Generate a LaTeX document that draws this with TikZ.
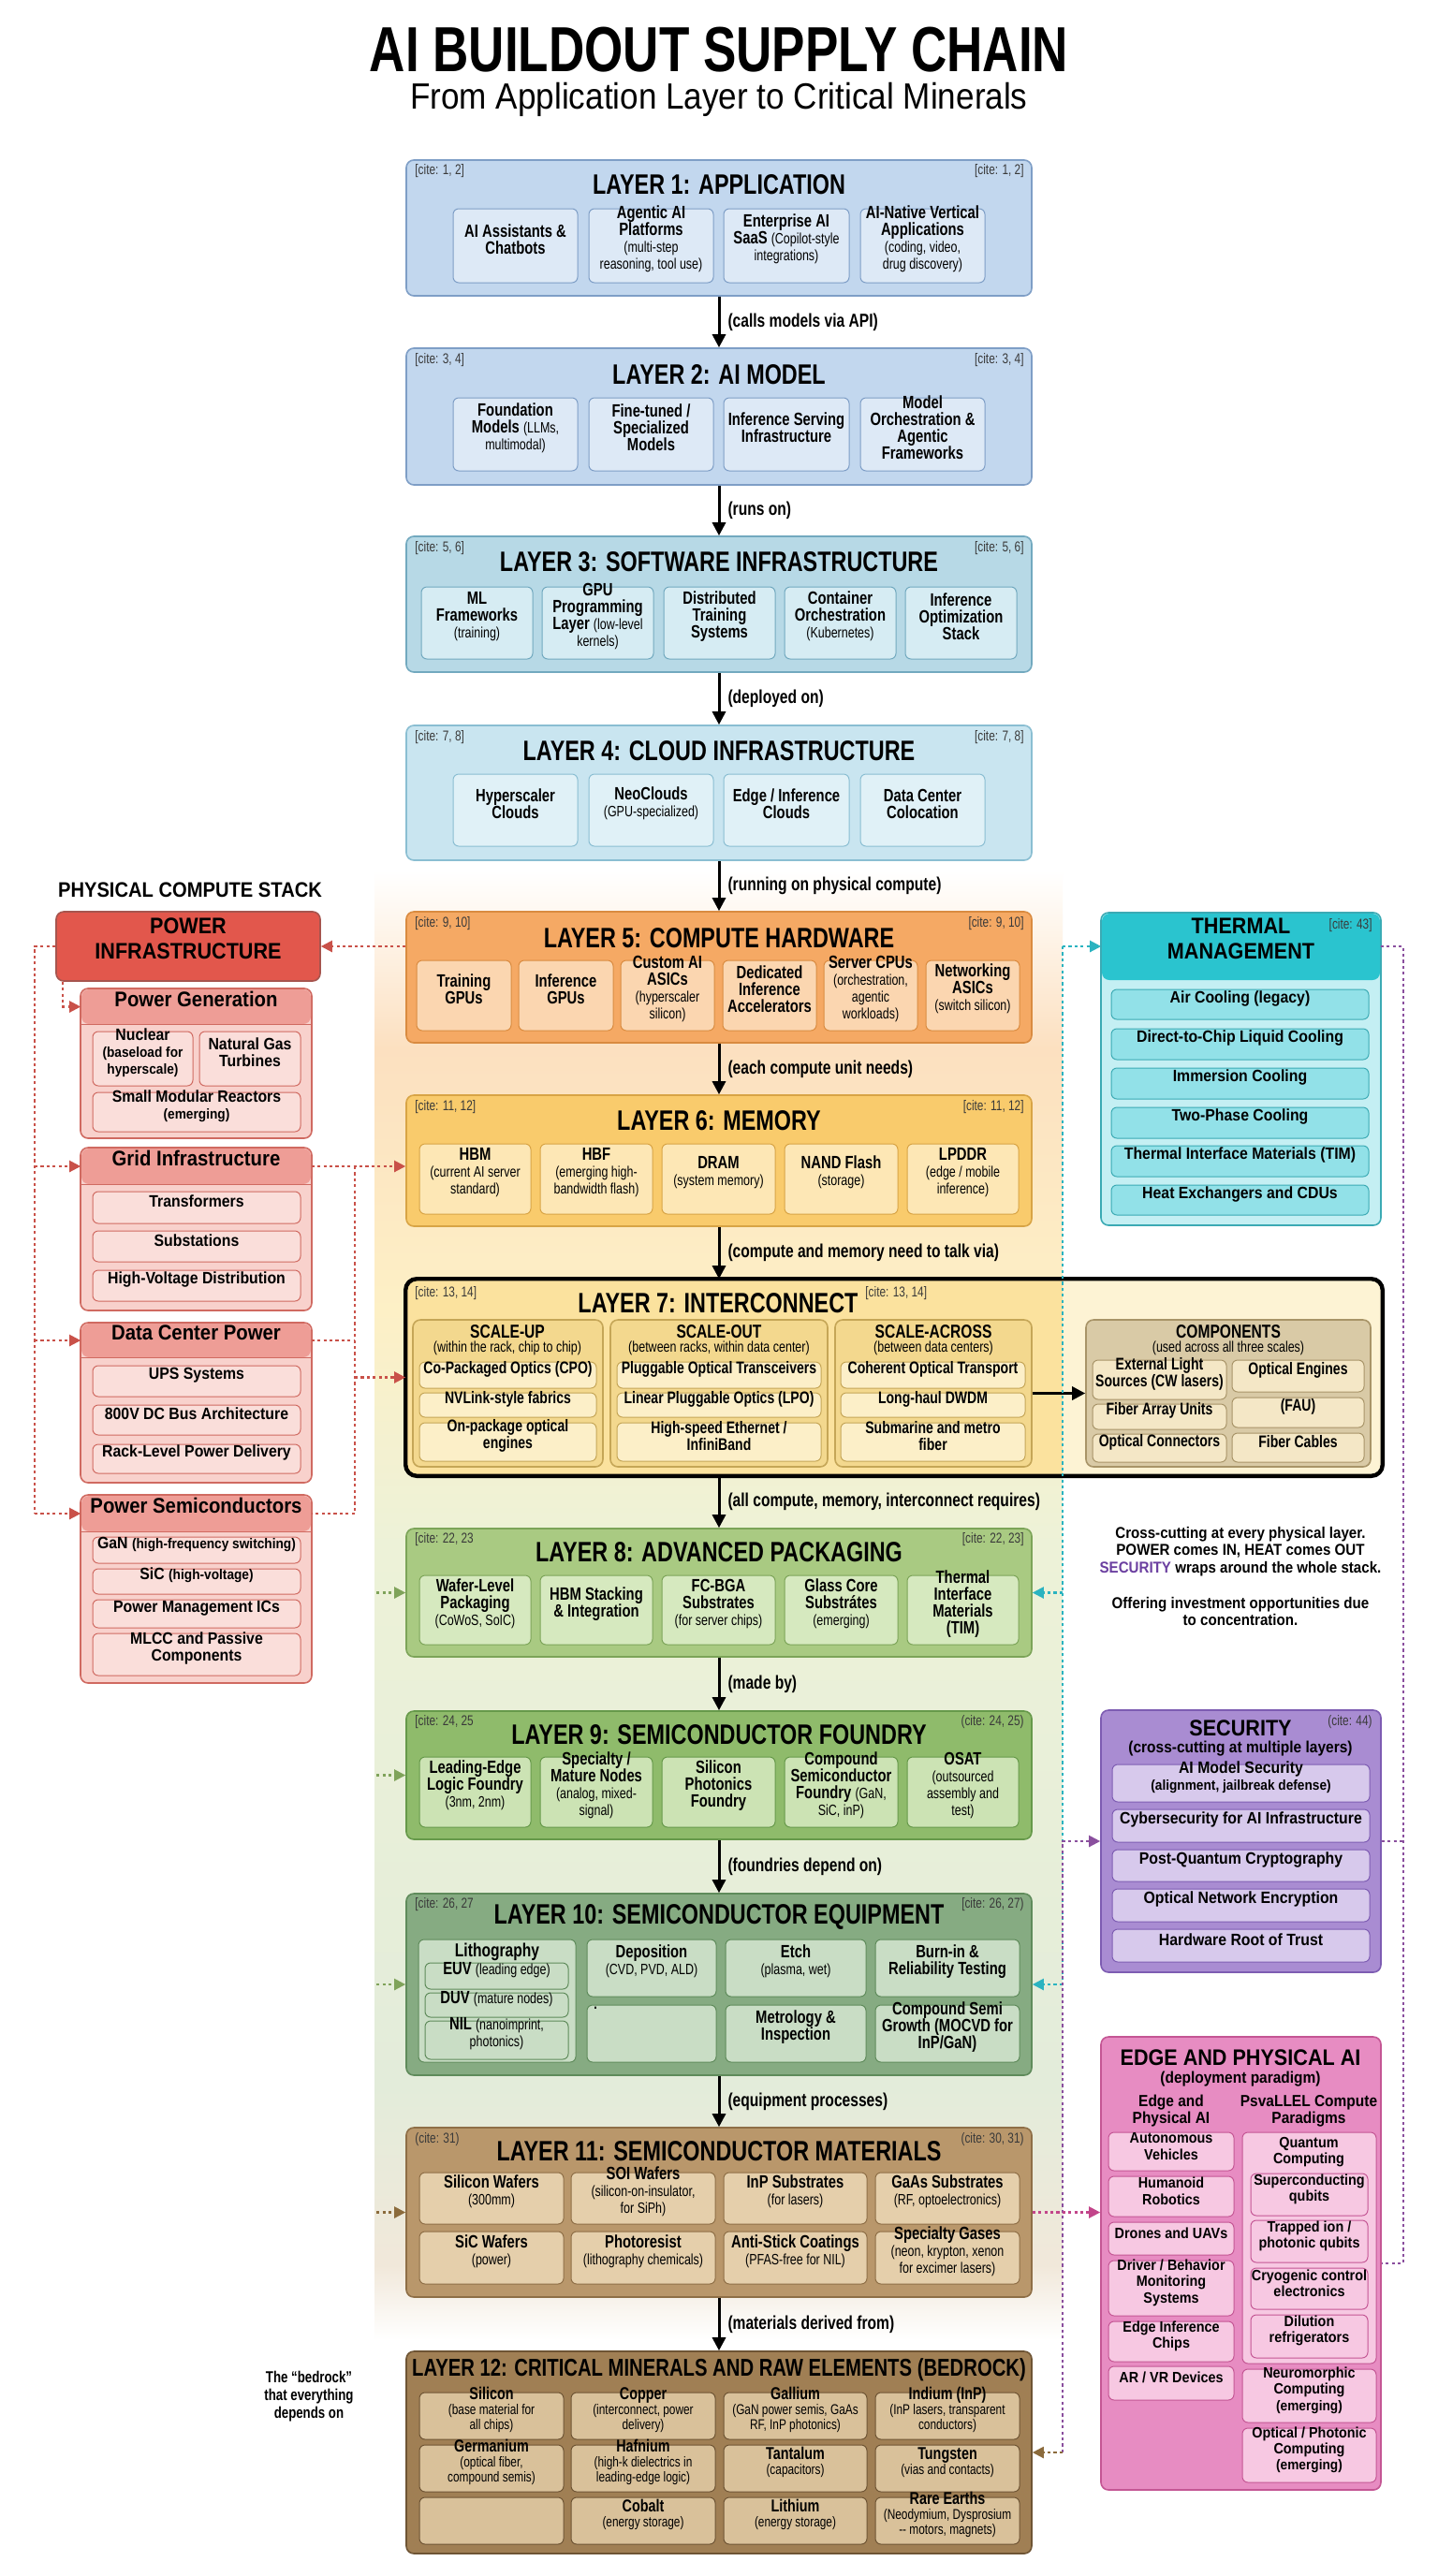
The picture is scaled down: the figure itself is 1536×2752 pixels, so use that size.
\documentclass[tikz,border=0pt]{standalone}
\usepackage{fontspec}
\setmainfont{Liberation Sans}
\newfontfamily\condf{Liberation Sans}[FakeStretch=0.78]
\newfontfamily\sidef{Liberation Sans}[FakeStretch=0.9]
\usetikzlibrary{positioning, fit, calc, arrows.meta}

% layer colours
\definecolor{bluefill}{HTML}{C2D7EE}
\definecolor{blueitem}{HTML}{DDE9F6}
\definecolor{blueline}{HTML}{7E9EC6}
\definecolor{tealfill}{HTML}{B7D9E6}
\definecolor{tealitem}{HTML}{D6ECF3}
\definecolor{tealline}{HTML}{72A9BF}
\definecolor{skyfill}{HTML}{C9E5F0}
\definecolor{skyitem}{HTML}{E0F1F7}
\definecolor{skyline}{HTML}{8ABED2}
\definecolor{orangefill}{HTML}{F5A964}
\definecolor{orangeitem}{HTML}{FBD6B0}
\definecolor{orangeline}{HTML}{D98B40}
\definecolor{goldfill}{HTML}{F9CB6C}
\definecolor{golditem}{HTML}{FDE7B5}
\definecolor{goldline}{HTML}{D8A445}
\definecolor{l7warm}{HTML}{FBE29E}
\definecolor{l7light}{HTML}{FDF3D4}
\definecolor{l7col}{HTML}{F3D88E}
\definecolor{l7item}{HTML}{FCEFC8}
\definecolor{l7line}{HTML}{C5A657}
\definecolor{compfill}{HTML}{D9CAA6}
\definecolor{compitem}{HTML}{F4E7C6}
\definecolor{compline}{HTML}{A89468}
\definecolor{leaffill}{HTML}{A9CA82}
\definecolor{leafitem}{HTML}{D6E9BF}
\definecolor{leafline}{HTML}{7CA458}
\definecolor{grassfill}{HTML}{8FBB6B}
\definecolor{grassitem}{HTML}{CCE3B4}
\definecolor{grassline}{HTML}{66994A}
\definecolor{sagefill}{HTML}{86AB82}
\definecolor{sageitem}{HTML}{C9DDC5}
\definecolor{sageline}{HTML}{5F8B5B}
\definecolor{tanfill}{HTML}{B9976B}
\definecolor{tanitem}{HTML}{E5CFAB}
\definecolor{tanline}{HTML}{8E6E46}
\definecolor{earthfill}{HTML}{A07F54}
\definecolor{earthitem}{HTML}{D9C19A}
\definecolor{earthline}{HTML}{6E5434}
% side panels
\definecolor{powerhead}{HTML}{E2574C}
\definecolor{powerbody}{HTML}{F8D1CC}
\definecolor{powerstrip}{HTML}{EE9D96}
\definecolor{poweritem}{HTML}{FADEDA}
\definecolor{powerline}{HTML}{D06A61}
\definecolor{thermhead}{HTML}{2AC4CF}
\definecolor{thermbody}{HTML}{C4EFF3}
\definecolor{thermitem}{HTML}{92E1E8}
\definecolor{thermline}{HTML}{3BAAB4}
\definecolor{secfill}{HTML}{A98CD2}
\definecolor{secitem}{HTML}{D7C9EC}
\definecolor{secline}{HTML}{7D5CB2}
\definecolor{secword}{HTML}{6B3FA0}
\definecolor{edgefill}{HTML}{E78CC2}
\definecolor{edgeitem}{HTML}{F7C8E2}
\definecolor{edgeline}{HTML}{C45694}
% connectors
\definecolor{reddot}{HTML}{C95149}
\definecolor{cyandot}{HTML}{2BB3C0}
\definecolor{purpdot}{HTML}{8A4F9E}
\definecolor{pinkdot}{HTML}{C2458A}
\definecolor{greendot}{HTML}{7FA35A}
\definecolor{browndot}{HTML}{8B6B3C}
\definecolor{citegray}{HTML}{3A3A3A}
% glow
\definecolor{glowA}{HTML}{FCE0C0}
\definecolor{glowB}{HTML}{FDF0C6}
\definecolor{glowC}{HTML}{EDF2D8}
\definecolor{glowD}{HTML}{E3ECDA}
\definecolor{glowE}{HTML}{F1E8DA}

\newcommand{\smalltxt}[1]{{\mdseries\fontsize{8}{8.2}\selectfont #1}}
\newcommand{\minitxt}[1]{{\mdseries\fontsize{7.6}{7.8}\selectfont #1}}
\newcommand{\sidesmall}[1]{{\fontsize{7.6}{7.8}\selectfont #1}}

\begin{document}
\begin{tikzpicture}[
    x=0.5pt, y=-0.5pt,
    layer/.style={rounded corners=4pt, line width=0.8pt, inner sep=0pt},
    item/.style={draw, rounded corners=3pt, line width=0.5pt, inner sep=0pt,
      align=center, font=\condf\bfseries\fontsize{9.5}{9}\selectfont},
    app/.style={item, fill=blueitem, draw=blueline},
    soft/.style={item, fill=tealitem, draw=tealline},
    cloud/.style={item, fill=skyitem, draw=skyline},
    chip/.style={item, fill=orangeitem, draw=orangeline},
    mem/.style={item, fill=golditem, draw=goldline},
    link/.style={item, fill=l7item, draw=l7line, font=\condf\bfseries\fontsize{9}{9}\selectfont},
    comp/.style={item, fill=compitem, draw=compline, font=\condf\bfseries\fontsize{9}{9}\selectfont},
    pack/.style={item, fill=leafitem, draw=leafline},
    fab/.style={item, fill=grassitem, draw=grassline},
    tool/.style={item, fill=sageitem, draw=sageline},
    mat/.style={item, fill=tanitem, draw=tanline},
    mineral/.style={item, fill=earthitem, draw=earthline, font=\condf\bfseries\fontsize{9.2}{8}\selectfont},
    ltitle/.style={font=\condf\bfseries\fontsize{15}{16}\selectfont, inner sep=0pt},
    colhead/.style={font=\condf\bfseries\fontsize{10}{11}\selectfont, inner sep=0pt},
    colsub/.style={font=\condf\fontsize{8}{9}\selectfont, inner sep=0pt},
    cite/.style={font=\condf\fontsize{7.6}{8}\selectfont, text=citegray, inner sep=0pt},
    flow/.style={-{Triangle[length=7pt,width=7pt]}, line width=1.5pt},
    flowlab/.style={midway, right, xshift=4pt, font=\condf\bfseries\fontsize{10}{11}\selectfont, inner sep=0pt},
    sidehead/.style={font=\sidef\bfseries\fontsize{12}{13.5}\selectfont, align=center, inner sep=0pt, text=black},
    subhead/.style={font=\sidef\bfseries\fontsize{11.3}{12}\selectfont, inner sep=0pt},
    sideitem/.style={draw, rounded corners=3pt, line width=0.5pt, inner sep=0pt,
      align=center, font=\sidef\bfseries\fontsize{8.8}{9}\selectfont},
    pwritem/.style={sideitem, fill=poweritem, draw=powerline},
    thitem/.style={sideitem, fill=thermitem, draw=thermline},
    secbox/.style={sideitem, fill=secitem, draw=secline},
    edgebox/.style={sideitem, fill=edgeitem, draw=edgeline, font=\sidef\bfseries\fontsize{8}{8.6}\selectfont},
    wire/.style={line width=1.1pt, dash pattern=on 1.6pt off 1.6pt},
    tip/.style={-{Triangle[length=6pt,width=6pt]}}
  ]

  % canvas
  \useasboundingbox (0,0) rectangle (1536,2752);
  \fill[white] (0,0) rectangle (1536,2752);

  % glow behind the physical layers
  \shade[top color=white, bottom color=glowA] (400,930) rectangle (1135,1120);
  \shade[top color=glowA, bottom color=glowB] (400,1120) rectangle (1135,1400);
  \shade[top color=glowB, bottom color=glowC] (400,1400) rectangle (1135,1650);
  \shade[top color=glowC, bottom color=glowD] (400,1650) rectangle (1135,2230);
  \shade[top color=glowD, bottom color=glowE] (400,2230) rectangle (1135,2420);
  \shade[top color=glowE, bottom color=white] (400,2420) rectangle (1135,2500);

  % title
  \node[font=\condf\bfseries\fontsize{34}{36}\selectfont, inner sep=0pt] (title) at (768,53) {AI BUILDOUT SUPPLY CHAIN};
  \node[font=\sidef\fontsize{19.5}{21}\selectfont, inner sep=0pt] (subtitle) at (768,106) {From Application Layer to Critical Minerals};

  % Layer 1
  \node[layer, fill=bluefill, draw=blueline, fit={(434,171) (1102,316)}] (L1) {};
  \node[ltitle] (t1) at (768,197) {LAYER 1: APPLICATION};
  \node[cite, anchor=west] (c1a) at (443,183) {[cite: 1, 2]};
  \node[cite, anchor=east] (c1b) at (1094,183) {[cite: 1, 2]};
  \node[app, fit={(484,223) (617,302)}] (L1a) {AI Assistants \&\\Chatbots};
  \node[app, fit={(629,223) (762,302)}] (L1b) {Agentic AI\\Platforms\\\smalltxt{(multi-step}\\\smalltxt{reasoning, tool use)}};
  \node[app, fit={(773,223) (907,302)}] (L1c) {Enterprise AI\\SaaS \smalltxt{(Copilot-style}\\\smalltxt{integrations)}};
  \node[app, fit={(919,223) (1052,302)}] (L1d) {AI-Native Vertical\\Applications\\\smalltxt{(coding, video,}\\\smalltxt{drug discovery)}};

  % Layer 2
  \node[layer, fill=bluefill, draw=blueline, fit={(434,372) (1102,518)}] (L2) {};
  \node[ltitle] (t2) at (768,400) {LAYER 2: AI MODEL};
  \node[cite, anchor=west] (c2a) at (443,385) {[cite: 3, 4]};
  \node[cite, anchor=east] (c2b) at (1094,385) {[cite: 3, 4]};
  \node[app, fit={(484,425) (617,503)}] (L2a) {Foundation\\Models \smalltxt{(LLMs,}\\\smalltxt{multimodal)}};
  \node[app, fit={(629,425) (762,503)}] (L2b) {Fine-tuned /\\Specialized\\Models};
  \node[app, fit={(773,425) (907,503)}] (L2c) {Inference Serving\\Infrastructure};
  \node[app, fit={(919,425) (1052,503)}] (L2d) {Model\\Orchestration \&\\Agentic\\Frameworks};

  % Layer 3
  \node[layer, fill=tealfill, draw=tealline, fit={(434,573) (1102,718)}] (L3) {};
  \node[ltitle] (t3) at (768,600) {LAYER 3: SOFTWARE INFRASTRUCTURE};
  \node[cite, anchor=west] (c3a) at (443,586) {[cite: 5, 6]};
  \node[cite, anchor=east] (c3b) at (1094,586) {[cite: 5, 6]};
  \node[soft, fit={(450,627) (569,704)}] (L3a) {ML\\Frameworks\\\smalltxt{(training)}};
  \node[soft, fit={(579,627) (698,704)}] (L3b) {GPU\\Programming\\Layer \smalltxt{(low-level}\\\smalltxt{kernels)}};
  \node[soft, fit={(709,627) (828,704)}] (L3c) {Distributed\\Training\\Systems};
  \node[soft, fit={(838,627) (957,704)}] (L3d) {Container\\Orchestration\\\smalltxt{(Kubernetes)}};
  \node[soft, fit={(967,627) (1086,704)}] (L3e) {Inference\\Optimization\\Stack};

  % Layer 4
  \node[layer, fill=skyfill, draw=skyline, fit={(434,775) (1102,919)}] (L4) {};
  \node[ltitle] (t4) at (768,802) {LAYER 4: CLOUD INFRASTRUCTURE};
  \node[cite, anchor=west] (c4a) at (443,788) {[cite: 7, 8]};
  \node[cite, anchor=east] (c4b) at (1094,788) {[cite: 7, 8]};
  \node[cloud, fit={(484,827) (617,904)}] (L4a) {Hyperscaler\\Clouds};
  \node[cloud, fit={(629,827) (762,904)}] (L4b) {NeoClouds\\\smalltxt{(GPU-specialized)}};
  \node[cloud, fit={(773,827) (907,904)}] (L4c) {Edge / Inference\\Clouds};
  \node[cloud, fit={(919,827) (1052,904)}] (L4d) {Data Center\\Colocation};

  % Layer 5
  \node[layer, fill=orangefill, draw=orangeline, fit={(434,974) (1102,1114)}] (L5) {};
  \node[ltitle] (t5) at (768,1002) {LAYER 5: COMPUTE HARDWARE};
  \node[cite, anchor=west] (c5a) at (443,987) {[cite: 9, 10]};
  \node[cite, anchor=east] (c5b) at (1094,987) {[cite: 9, 10]};
  \node[chip, fit={(445,1026) (546,1101)}] (L5a) {Training\\GPUs};
  \node[chip, fit={(554,1026) (655,1101)}] (L5b) {Inference\\GPUs};
  \node[chip, fit={(663,1026) (763,1101)}] (L5c) {Custom AI\\ASICs\\\smalltxt{(hyperscaler}\\\smalltxt{silicon)}};
  \node[chip, fit={(772,1026) (872,1101)}] (L5d) {Dedicated\\Inference\\Accelerators};
  \node[chip, fit={(880,1026) (980,1101)}] (L5e) {Server CPUs\\\smalltxt{(orchestration,}\\\smalltxt{agentic}\\\smalltxt{workloads)}};
  \node[chip, fit={(989,1026) (1089,1101)}] (L5f) {Networking\\ASICs\\\smalltxt{(switch silicon)}};

  % Layer 6
  \node[layer, fill=goldfill, draw=goldline, fit={(434,1170) (1102,1310)}] (L6) {};
  \node[ltitle] (t6) at (768,1197) {LAYER 6: MEMORY};
  \node[cite, anchor=west] (c6a) at (443,1183) {[cite: 11, 12]};
  \node[cite, anchor=east] (c6b) at (1094,1183) {[cite: 11, 12]};
  \node[mem, fit={(448,1222) (567,1297)}] (L6a) {HBM\\\smalltxt{(current AI server}\\\smalltxt{standard)}};
  \node[mem, fit={(577,1222) (697,1297)}] (L6b) {HBF\\\smalltxt{(emerging high-}\\\smalltxt{bandwidth flash)}};
  \node[mem, fit={(707,1222) (828,1297)}] (L6c) {DRAM\\\smalltxt{(system memory)}};
  \node[mem, fit={(838,1222) (959,1297)}] (L6d) {NAND Flash\\\smalltxt{(storage)}};
  \node[mem, fit={(969,1222) (1088,1297)}] (L6e) {LPDDR\\\smalltxt{(edge / mobile}\\\smalltxt{inference)}};

  % Layer 7
  \node[layer, fill=l7light, fit={(434,1367) (1476,1576)}] (L7) {};
  \begin{scope}
    \clip[rounded corners=5pt] (L7.north west) rectangle (L7.south east);
    \fill[l7warm] (L7.north west) rectangle (1135,1576);
  \end{scope}
  \draw[line width=2.2pt, rounded corners=6pt] (L7.north west) rectangle (L7.south east);
  \node[ltitle] (t7) at (767,1392) {LAYER 7: INTERCONNECT};
  \node[cite, anchor=west] (c7a) at (443,1382) {[cite: 13, 14]};
  \node[cite, anchor=west] (c7b) at (924,1382) {[cite: 13, 14]};
  \node[layer, fill=l7col, draw=l7line, fit={(441,1410) (644,1567)}] (UPc) {};
  \node[colhead] (UPh) at (542,1423) {SCALE-UP};
  \node[colsub] (UPs) at (542,1440) {(within the rack, chip to chip)};
  \node[link, fit={(448,1455) (637,1483)}] (UPa) {Co-Packaged Optics (CPO)};
  \node[link, fit={(448,1488) (637,1514)}] (UPb) {NVLink-style fabrics};
  \node[link, fit={(448,1520) (637,1561)}] (UPd) {On-package optical\\engines};
  \node[layer, fill=l7col, draw=l7line, fit={(652,1410) (884,1567)}] (OUTc) {};
  \node[colhead] (OUTh) at (768,1423) {SCALE-OUT};
  \node[colsub] (OUTs) at (768,1440) {(between racks, within data center)};
  \node[link, fit={(659,1455) (877,1483)}] (OUTa) {Pluggable Optical Transceivers};
  \node[link, fit={(659,1488) (877,1514)}] (OUTb) {Linear Pluggable Optics (LPO)};
  \node[link, fit={(659,1520) (877,1561)}] (OUTd) {High-speed Ethernet /\\InfiniBand};
  \node[layer, fill=l7col, draw=l7line, fit={(892,1410) (1102,1567)}] (ACRc) {};
  \node[colhead] (ACRh) at (997,1423) {SCALE-ACROSS};
  \node[colsub] (ACRs) at (997,1440) {(between data centers)};
  \node[link, fit={(898,1455) (1095,1483)}] (ACRa) {Coherent Optical Transport};
  \node[link, fit={(898,1488) (1095,1514)}] (ACRb) {Long-haul DWDM};
  \node[link, fit={(898,1520) (1095,1561)}] (ACRd) {Submarine and metro\\fiber};
  \node[layer, fill=compfill, draw=compline, fit={(1160,1410) (1464,1567)}] (CMP) {};
  \node[colhead] (CMPh) at (1312,1423) {COMPONENTS};
  \node[colsub] (CMPs) at (1312,1440) {(used across all three scales)};
  \node[comp, fit={(1167,1453) (1310,1495)}] (CMPa) {External Light\\Sources (CW lasers)};
  \node[comp, fit={(1316,1453) (1457,1487)}] (CMPb) {Optical Engines};
  \node[comp, fit={(1316,1493) (1457,1525)}] (CMPc) {(FAU)};
  \node[comp, fit={(1167,1500) (1310,1527)}] (CMPd) {Fiber Array Units};
  \node[comp, fit={(1167,1532) (1310,1562)}] (CMPe) {Optical Connectors};
  \node[comp, fit={(1316,1531) (1457,1562)}] (CMPf) {Fiber Cables};
  \draw[flow] (ACRc.east |- CMP.west) -- (CMP.west);

  % Layer 8
  \node[layer, fill=leaffill, draw=leafline, fit={(434,1633) (1102,1770)}] (L8) {};
  \node[ltitle] (t8) at (768,1658) {LAYER 8: ADVANCED PACKAGING};
  \node[cite, anchor=west] (c8a) at (443,1645) {[cite: 22, 23};
  \node[cite, anchor=east] (c8b) at (1094,1645) {[cite: 22, 23]};
  \node[pack, fit={(448,1683) (567,1757)}] (L8a) {Wafer-Level\\Packaging\\\smalltxt{(CoWoS, SoIC)}};
  \node[pack, fit={(577,1683) (697,1757)}] (L8b) {HBM Stacking\\\& Integration};
  \node[pack, fit={(707,1683) (828,1757)}] (L8c) {FC-BGA\\Substrates\\\smalltxt{(for server chips)}};
  \node[pack, fit={(838,1683) (959,1757)}] (L8d) {Glass Core\\Substrátes\\\smalltxt{(emerging)}};
  \node[pack, fit={(969,1683) (1088,1757)}] (L8e) {Thermal\\Interface\\Materials\\(TIM)};

  % Layer 9
  \node[layer, fill=grassfill, draw=grassline, fit={(434,1828) (1102,1965)}] (L9) {};
  \node[ltitle] (t9) at (768,1853) {LAYER 9: SEMICONDUCTOR FOUNDRY};
  \node[cite, anchor=west] (c9a) at (443,1840) {[cite: 24, 25};
  \node[cite, anchor=east] (c9b) at (1094,1840) {(cite: 24, 25)};
  \node[fab, fit={(448,1877) (567,1952)}] (L9a) {Leading-Edge\\Logic Foundry\\\smalltxt{(3nm, 2nm)}};
  \node[fab, fit={(577,1877) (697,1952)}] (L9b) {Specialty /\\Mature Nodes\\\smalltxt{(analog, mixed-}\\\smalltxt{signal)}};
  \node[fab, fit={(707,1877) (828,1952)}] (L9c) {Silicon\\Photonics\\Foundry};
  \node[fab, fit={(838,1877) (959,1952)}] (L9d) {Compound\\Semiconductor\\Foundry \smalltxt{(GaN,}\\\smalltxt{SiC, inP)}};
  \node[fab, fit={(969,1877) (1088,1952)}] (L9e) {OSAT\\\smalltxt{(outsourced}\\\smalltxt{assembly and}\\\smalltxt{test)}};

  % Layer 10
  \node[layer, fill=sagefill, draw=sageline, fit={(434,2023) (1102,2217)}] (L10) {};
  \node[ltitle] (t10) at (768,2048) {LAYER 10: SEMICONDUCTOR EQUIPMENT};
  \node[cite, anchor=west] (c10a) at (443,2035) {[cite: 26, 27};
  \node[cite, anchor=east] (c10b) at (1094,2035) {[cite: 26, 27)};
  \node[tool, fit={(447,2072) (615,2203)}] (LIT) {};
  \node[colhead] (LITh) at (531,2085) {Lithography};
  \node[tool, fit={(454,2097) (607,2125)}] (LITa) {EUV \smalltxt{(leading edge)}};
  \node[tool, fit={(454,2129) (607,2155)}] (LITb) {DUV \smalltxt{(mature nodes)}};
  \node[tool, fit={(454,2159) (607,2200)}] (LITc) {NIL \smalltxt{(nanoimprint,}\\\smalltxt{photonics)}};
  \node[tool, fit={(627,2072) (765,2133)}] (L10b) {Deposition\\\smalltxt{(CVD, PVD, ALD)}};
  \node[tool, fit={(627,2142) (765,2203)}] (L10c) {};
  \node[font=\condf\bfseries\fontsize{8}{8}\selectfont, inner sep=0pt, anchor=north west] (L10dot) at (634,2144) {.};
  \node[tool, fit={(775,2072) (925,2133)}] (L10d) {Etch\\\smalltxt{(plasma, wet)}};
  \node[tool, fit={(775,2142) (925,2203)}] (L10e) {Metrology \&\\Inspection};
  \node[tool, fit={(935,2072) (1089,2133)}] (L10f) {Burn-in \&\\Reliability Testing};
  \node[tool, fit={(935,2142) (1089,2203)}] (L10g) {Compound Semi\\Growth (MOCVD for\\InP/GaN)};

  % Layer 11
  \node[layer, fill=tanfill, draw=tanline, fit={(434,2273) (1102,2454)}] (L11) {};
  \node[ltitle] (t11) at (768,2298) {LAYER 11: SEMICONDUCTOR MATERIALS};
  \node[cite, anchor=west] (c11a) at (443,2286) {(cite: 31)};
  \node[cite, anchor=east] (c11b) at (1094,2286) {(cite: 30, 31)};
  \node[mat, fit={(448,2321) (602,2376)}] (L11a) {Silicon Wafers\\\smalltxt{(300mm)}};
  \node[mat, fit={(610,2321) (764,2376)}] (L11b) {SOI Wafers\\\smalltxt{(silicon-on-insulator,}\\\smalltxt{for SiPh)}};
  \node[mat, fit={(773,2321) (926,2376)}] (L11c) {InP Substrates\\\smalltxt{(for lasers)}};
  \node[mat, fit={(935,2321) (1089,2376)}] (L11d) {GaAs Substrates\\\smalltxt{(RF, optoelectronics)}};
  \node[mat, fit={(448,2384) (602,2440)}] (L11e) {SiC Wafers\\\smalltxt{(power)}};
  \node[mat, fit={(610,2384) (764,2440)}] (L11f) {Photoresist\\\smalltxt{(lithography chemicals)}};
  \node[mat, fit={(773,2384) (926,2440)}] (L11g) {Anti-Stick Coatings\\\smalltxt{(PFAS-free for NIL)}};
  \node[mat, fit={(935,2384) (1089,2440)}] (L11h) {Specialty Gases\\\smalltxt{(neon, krypton, xenon}\\\smalltxt{for excimer lasers)}};

  % Layer 12
  \node[layer, fill=earthfill, draw=earthline, fit={(434,2512) (1102,2728)}] (L12) {};
  \node[ltitle, font=\condf\bfseries\fontsize{13}{14}\selectfont] (t12) at (768,2532) {LAYER 12: CRITICAL MINERALS AND RAW ELEMENTS (BEDROCK)};
  \node[mineral, fit={(448,2556) (602,2606)}] (L12a) {Silicon\\\minitxt{(base material for}\\\minitxt{all chips)}};
  \node[mineral, fit={(610,2556) (764,2606)}] (L12b) {Copper\\\minitxt{(interconnect, power}\\\minitxt{delivery)}};
  \node[mineral, fit={(773,2556) (926,2606)}] (L12c) {Gallium\\\minitxt{(GaN power semis, GaAs}\\\minitxt{RF, InP photonics)}};
  \node[mineral, fit={(935,2556) (1089,2606)}] (L12d) {Indium (InP)\\\minitxt{(InP lasers, transparent}\\\minitxt{conductors)}};
  \node[mineral, fit={(448,2612) (602,2662)}] (L12e) {Germanium\\\minitxt{(optical fiber,}\\\minitxt{compound semis)}};
  \node[mineral, fit={(610,2612) (764,2662)}] (L12f) {Hafnium\\\minitxt{(high-k dielectrics in}\\\minitxt{leading-edge logic)}};
  \node[mineral, fit={(773,2612) (926,2662)}] (L12g) {Tantalum\\\minitxt{(capacitors)}};
  \node[mineral, fit={(935,2612) (1089,2662)}] (L12h) {Tungsten\\\minitxt{(vias and contacts)}};
  \node[mineral, fit={(448,2668) (602,2718)}] (L12i) {};
  \node[mineral, fit={(610,2668) (764,2718)}] (L12j) {Cobalt\\\minitxt{(energy storage)}};
  \node[mineral, fit={(773,2668) (926,2718)}] (L12k) {Lithium\\\minitxt{(energy storage)}};
  \node[mineral, fit={(935,2668) (1089,2718)}] (L12l) {Rare Earths\\\minitxt{(Neodymium, Dysprosium}\\\minitxt{-{}- motors, magnets)}};
  \node[font=\condf\bfseries\fontsize{8.5}{9.5}\selectfont, align=center, inner sep=0pt] (bedrock) at (330,2560) {The “bedrock”\\that everything\\depends on};

  % flow between layers
  \draw[flow] (L1.south) -- (L2.north) node[flowlab] (f1) {(calls models via API)};
  \draw[flow] (L2.south) -- (L3.north) node[flowlab] (f2) {(runs on)};
  \draw[flow] (L3.south) -- (L4.north) node[flowlab] (f3) {(deployed on)};
  \draw[flow] (L4.south) -- (L5.north) node[flowlab] (f4) {(running on physical compute)};
  \draw[flow] (L5.south) -- (L6.north) node[flowlab] (f5) {(each compute unit needs)};
  \draw[flow] (L6.south) -- (L6.south |- L7.north) node[flowlab] (f6) {(compute and memory need to talk via)};
  \draw[flow] (L8.north |- L7.south) -- (L8.north) node[flowlab] (f7) {(all compute, memory, interconnect requires)};
  \draw[flow] (L8.south) -- (L9.north) node[flowlab] (f8) {(made by)};
  \draw[flow] (L9.south) -- (L10.north) node[flowlab] (f9) {(foundries depend on)};
  \draw[flow] (L10.south) -- (L11.north) node[flowlab] (f10) {(equipment processes)};
  \draw[flow] (L11.south) -- (L12.north) node[flowlab] (f11) {(materials derived from)};

  % Power side
  \node[font=\sidef\bfseries\fontsize{11.2}{12}\selectfont, inner sep=0pt] (physical) at (203,951) {PHYSICAL COMPUTE STACK};
  \node[layer, fill=powerhead, draw=powerline!80!black, sidehead, fit={(60,974) (342,1048)}] (PWR) {POWER\\INFRASTRUCTURE};

  \node[layer, fill=powerbody, draw=powerline, fit={(86,1056) (333,1216)}] (PG) {};
  \node[layer, fill=powerstrip, subhead, fit={(87,1057) (332,1094)}] (PGh) {Power Generation};
  \draw[powerline, line width=0.5pt] (PGh.south west) -- (PGh.south east);
  \node[pwritem, fit={(99,1102) (206,1160)}] (PGa) {Nuclear\\\sidesmall{(baseload for}\\\sidesmall{hyperscale)}};
  \node[pwritem, fit={(213,1102) (321,1160)}] (PGb) {Natural Gas\\Turbines};
  \node[pwritem, fit={(99,1167) (321,1209)}] (PGc) {Small Modular Reactors\\\sidesmall{(emerging)}};

  \node[layer, fill=powerbody, draw=powerline, fit={(86,1226) (333,1400)}] (GR) {};
  \node[layer, fill=powerstrip, subhead, fit={(87,1227) (332,1265)}] (GRh) {Grid Infrastructure};
  \draw[powerline, line width=0.5pt] (GRh.south west) -- (GRh.south east);
  \node[pwritem, fit={(99,1273) (321,1307)}] (GRa) {Transformers};
  \node[pwritem, fit={(99,1315) (321,1348)}] (GRb) {Substations};
  \node[pwritem, fit={(99,1357) (321,1390)}] (GRc) {High-Voltage Distribution};

  \node[layer, fill=powerbody, draw=powerline, fit={(86,1413) (333,1584)}] (DC) {};
  \node[layer, fill=powerstrip, subhead, fit={(87,1414) (332,1450)}] (DCh) {Data Center Power};
  \draw[powerline, line width=0.5pt] (DCh.south west) -- (DCh.south east);
  \node[pwritem, fit={(99,1459) (321,1492)}] (DCa) {UPS Systems};
  \node[pwritem, fit={(99,1501) (321,1533)}] (DCb) {800V DC Bus Architecture};
  \node[pwritem, fit={(99,1543) (321,1574)}] (DCc) {Rack-Level Power Delivery};

  \node[layer, fill=powerbody, draw=powerline, fit={(86,1597) (333,1798)}] (PS) {};
  \node[layer, fill=powerstrip, subhead, fit={(87,1598) (332,1636)}] (PSh) {Power Semiconductors};
  \draw[powerline, line width=0.5pt] (PSh.south west) -- (PSh.south east);
  \node[pwritem, fit={(99,1642) (321,1670)}] (PSa) {GaN \sidesmall{(high-frequency switching)}};
  \node[pwritem, fit={(99,1676) (321,1703)}] (PSb) {SiC \sidesmall{(high-voltage)}};
  \node[pwritem, fit={(99,1709) (321,1739)}] (PSc) {Power Management ICs};
  \node[pwritem, fit={(99,1745) (321,1790)}] (PSd) {MLCC and Passive\\Components};

  % Thermal side
  \node[layer, fill=thermbody, draw=thermline, fit={(1176,975) (1475,1309)}] (TH) {};
  \node[layer, fill=thermhead, sidehead, fit={(1177,976) (1474,1047)}] (THh) {THERMAL\\MANAGEMENT};
  \node[cite, anchor=east] (c43) at (1466,989) {[cite: 43]};
  \node[thitem, fit={(1187,1057) (1462,1089)}] (THa) {Air Cooling (legacy)};
  \node[thitem, fit={(1187,1099) (1462,1132)}] (THb) {Direct-to-Chip Liquid Cooling};
  \node[thitem, fit={(1187,1141) (1462,1174)}] (THc) {Immersion Cooling};
  \node[thitem, fit={(1187,1183) (1462,1216)}] (THd) {Two-Phase Cooling};
  \node[thitem, fit={(1187,1224) (1462,1257)}] (THe) {Thermal Interface Materials (TIM)};
  \node[thitem, fit={(1187,1266) (1462,1298)}] (THf) {Heat Exchangers and CDUs};

  % cross-cutting note
  \node[font=\sidef\bfseries\fontsize{8.4}{9.2}\selectfont, align=center, inner sep=0pt] (note) at (1325,1684)
    {Cross-cutting at every physical layer.\\POWER comes IN, HEAT comes OUT\\\textcolor{secword}{SECURITY} wraps around the whole stack.\\[10pt]Offering investment opportunities due\\to concentration.};

  % Security side
  \node[layer, fill=secfill, draw=secline, fit={(1176,1827) (1475,2107)}] (SEC) {};
  \node[sidehead] (SECh) at (1325,1846) {SECURITY};
  \node[font=\sidef\bfseries\fontsize{8.6}{9.5}\selectfont, inner sep=0pt] (SECs) at (1325,1868) {(cross-cutting at multiple layers)};
  \node[cite, anchor=east] (c44) at (1466,1840) {(cite: 44)};
  \node[secbox, fit={(1188,1885) (1463,1925)}] (SECa) {AI Model Security\\\sidesmall{(alignment, jailbreak defense)}};
  \node[secbox, fit={(1188,1933) (1463,1968)}] (SECb) {Cybersecurity for AI Infrastructure};
  \node[secbox, fit={(1188,1976) (1463,2010)}] (SECc) {Post-Quantum Cryptography};
  \node[secbox, fit={(1188,2018) (1463,2053)}] (SECd) {Optical Network Encryption};
  \node[secbox, fit={(1188,2061) (1463,2096)}] (SECe) {Hardware Root of Trust};

  % Edge and physical AI side
  \node[layer, fill=edgefill, draw=edgeline, fit={(1176,2176) (1475,2660)}] (EDG) {};
  \node[sidehead] (EDGh) at (1325,2198) {EDGE AND PHYSICAL AI};
  \node[font=\sidef\bfseries\fontsize{8.6}{9.5}\selectfont, inner sep=0pt] (EDGs) at (1325,2221) {(deployment paradigm)};
  \node[font=\sidef\bfseries\fontsize{8.6}{9}\selectfont, align=center, inner sep=0pt] (EDGl) at (1251,2255) {Edge and\\Physical AI};
  \node[font=\sidef\bfseries\fontsize{8.6}{9}\selectfont, align=center, inner sep=0pt] (EDGr) at (1398,2255) {PsvaLLEL Compute\\Paradigms};
  \node[edgebox, fit={(1184,2278) (1318,2319)}] (EDa) {Autonomous\\Vehicles};
  \node[edgebox, fit={(1184,2325) (1318,2368)}] (EDb) {Humanoid\\Robotics};
  \node[edgebox, fit={(1184,2374) (1318,2409)}] (EDc) {Drones and UAVs};
  \node[edgebox, fit={(1184,2415) (1318,2474)}] (EDd) {Driver / Behavior\\Monitoring\\Systems};
  \node[edgebox, fit={(1184,2480) (1318,2523)}] (EDe) {Edge Inference\\Chips};
  \node[edgebox, fit={(1184,2528) (1318,2564)}] (EDf) {AR / VR Devices};
  \node[edgebox, fit={(1327,2278) (1470,2525)}] (QC) {};
  \node[font=\sidef\bfseries\fontsize{8}{8.6}\selectfont, align=center, inner sep=0pt] (QCh) at (1398,2299) {Quantum\\Computing};
  \node[edgebox, fit={(1336,2322) (1461,2367)}] (QCa) {Superconducting\\qubits};
  \node[edgebox, fit={(1336,2372) (1461,2417)}] (QCb) {Trapped ion /\\photonic qubits};
  \node[edgebox, fit={(1336,2423) (1461,2467)}] (QCc) {Cryogenic control\\electronics};
  \node[edgebox, fit={(1336,2473) (1461,2519)}] (QCd) {Dilution\\refrigerators};
  \node[edgebox, fit={(1327,2531) (1470,2588)}] (NEU) {Neuromorphic\\Computing\\\sidesmall{(emerging)}};
  \node[edgebox, fit={(1327,2594) (1470,2652)}] (OPT) {Optical / Photonic\\Computing\\\sidesmall{(emerging)}};

  % power connectors
  \coordinate (redL) at (37,1011);
  \coordinate (redR) at (379,1245);
  \draw[wire, reddot, tip] (L5.west |- PWR.east) -- (PWR.east);
  \draw[wire, reddot] (PWR.west) -- (redL) -- (redL |- PSh.west);
  \draw[wire, reddot, tip] ($(PWR.south west)+(8,0)$) |- (PGh.west);
  \draw[wire, reddot, tip] (redL |- GRh.west) -- (GRh.west);
  \draw[wire, reddot, tip] (redL |- DCh.west) -- (DCh.west);
  \draw[wire, reddot, tip] (redL |- PSh.west) -- (PSh.west);
  \draw[wire, reddot, tip] (GRh.east) -- (L6.west |- GRh.east);
  \draw[wire, reddot] (redR |- GRh.east) -- (redR |- PSh.east) -- (PSh.east);
  \draw[wire, reddot] (DCh.east) -- (redR |- DCh.east);
  \draw[wire, reddot, tip] (redR |- L7.west) -- (L7.west);

  % heat connectors
  \coordinate (cyanTop) at (1135,1011);
  \draw[wire, cyandot, tip] (cyanTop) -- (THh.west |- cyanTop);
  \draw[wire, cyandot] (cyanTop) -- (cyanTop |- L10.east);
  \draw[wire, cyandot, tip] (cyanTop |- L8.east) -- (L8.east);
  \draw[wire, cyandot, tip] (cyanTop |- L10.east) -- (L10.east);

  % security and edge connectors
  \coordinate (purpBot) at (1135,2620);
  \draw[wire, purpdot] (THh.east |- cyanTop) -| ($(EDG.east)+(23,0)$) -- (EDG.east);
  \draw[wire, purpdot] (SEC.east) -- ++(23,0);
  \draw[wire, purpdot, tip] (purpBot) |- (SEC.west);
  \draw[wire, browndot, tip] (purpBot) -- (L12.east);
  \draw[wire, pinkdot, tip] (L11.east) -- (EDG.west |- L11.east);

  % stubs into the fab layers
  \draw[wire, greendot, tip] ($(L8.west)+(-31,0)$) -- (L8.west);
  \draw[wire, greendot, tip] ($(L9.west)+(-31,0)$) -- (L9.west);
  \draw[wire, greendot, tip] ($(L10.west)+(-31,0)$) -- (L10.west);
  \draw[wire, browndot, tip] ($(L11.west)+(-31,0)$) -- (L11.west);
\end{tikzpicture}
\end{document}
